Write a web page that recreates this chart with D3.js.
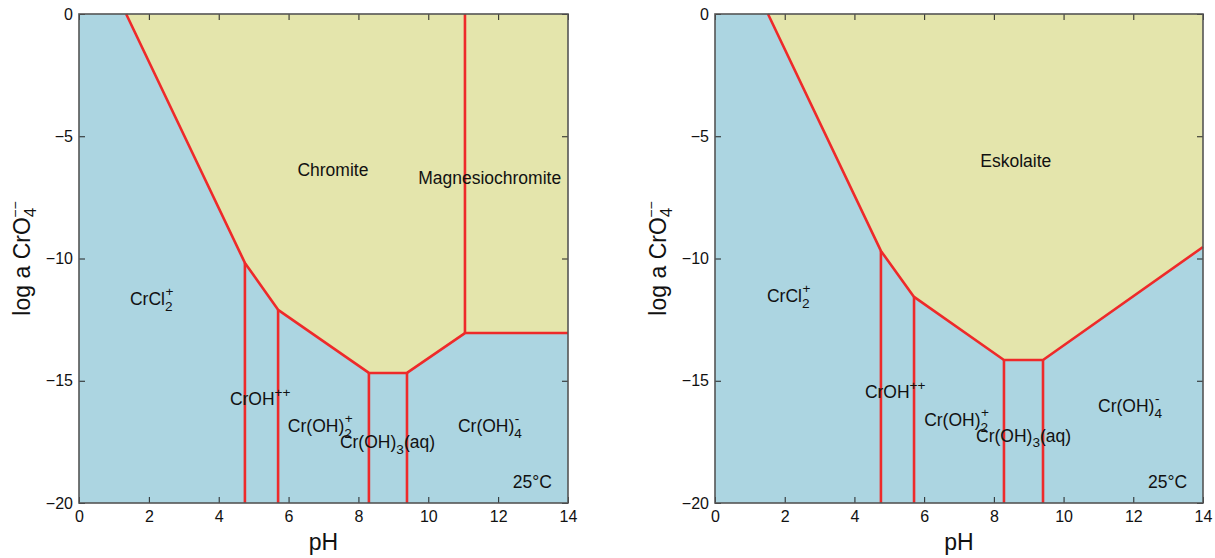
<!DOCTYPE html>
<html>
<head>
<meta charset="utf-8">
<script src="https://cdn.jsdelivr.net/npm/d3@7"></script>
<style>
  body { margin: 0; background: #fff; }
  svg text { font-family: "Liberation Sans", Arial, sans-serif; fill: #111; }
</style>
</head>
<body>
<svg id="chart" width="1215" height="558"></svg>
<script>
// ---- data ----
const xTicks = [0, 2, 4, 6, 8, 10, 12, 14];
const yTicks = [0, -5, -10, -15, -20];

// upper boundary of the aqueous field (pH, log a)
const leftBoundary = [[1.35, 0], [4.75, -10.18], [5.70, -12.1], [8.30, -14.68], [9.39, -14.68], [11.05, -13.05], [14, -13.05]];
const leftVerticals = [[4.75, -10.18, -20], [5.70, -12.1, -20], [8.30, -14.68, -20], [9.39, -14.68, -20], [11.05, 0, -13.05]];
const rightBoundary = [[1.52, 0], [4.76, -9.69], [5.71, -11.57], [8.29, -14.15], [9.41, -14.15], [14, -9.53]];
const rightVerticals = [[4.76, -9.69, -20], [5.71, -11.57, -20], [8.29, -14.15, -20], [9.41, -14.15, -20]];

// field labels: pH, log a of the text baseline, parts
const leftLabels = [
  { x: 7.27, y: -6.63, parts: [["Chromite"]], anchor: "middle" },
  { x: 9.71, y: -6.95, parts: [["Magnesiochromite"]] },
  { x: 1.46, y: -11.9, parts: [["CrCl"], ["2", "sub"], ["+", "supstack"]] },
  { x: 4.32, y: -15.99, parts: [["CrOH"], ["++", "sup"]] },
  { x: 5.98, y: -17.1, parts: [["Cr(OH)"], ["2", "sub"], ["+", "supstack"]] },
  { x: 7.47, y: -17.75, parts: [["Cr(OH)"], ["3", "sub"], ["(aq)"]] },
  { x: 10.85, y: -17.1, parts: [["Cr(OH)"], ["4", "sub"], ["-", "supstack"]] },
  { x: 12.42, y: -19.39, parts: [["25°C"]] }
];
const rightLabels = [
  { x: 8.63, y: -6.26, parts: [["Eskolaite"]], anchor: "middle" },
  { x: 1.49, y: -11.78, parts: [["CrCl"], ["2", "sub"], ["+", "supstack"]] },
  { x: 4.30, y: -15.71, parts: [["CrOH"], ["++", "sup"]] },
  { x: 6.00, y: -16.85, parts: [["Cr(OH)"], ["2", "sub"], ["+", "supstack"]] },
  { x: 7.49, y: -17.5, parts: [["Cr(OH)"], ["3", "sub"], ["(aq)"]] },
  { x: 10.99, y: -16.28, parts: [["Cr(OH)"], ["4", "sub"], ["-", "supstack"]] },
  { x: 12.42, y: -19.39, parts: [["25°C"]] }
];

const panels = [
  { left: 79, right: 568, boundary: leftBoundary, verticals: leftVerticals, labels: leftLabels },
  { left: 715, right: 1203, boundary: rightBoundary, verticals: rightVerticals, labels: rightLabels }
];
const plotTop = 14, plotBottom = 503;
const blue = "#acd5e1", yellow = "#e4e5ac", red = "#ee2a2a";
const fs = 17.5;

const svg = d3.select("#chart");

// writes sub/superscripts as tspans, bringing the baseline back after each one
function addLabel(text, parts, size) {
  let off = 0;
  parts.forEach(([t, kind]) => {
    const ts = text.append("tspan").text(t);
    let target = 0;
    if (kind === "sub") { target = size * 0.32; ts.attr("font-size", size * 0.78); }
    else if (kind === "sup") { target = -size * 0.45; ts.attr("font-size", size * 0.78); }
    else if (kind === "supstack") { target = -size * 0.5; ts.attr("font-size", size * 0.78).attr("dx", -size * 0.78 * 0.52); }
    ts.attr("dy", target - off);
    off = target;
  });
}

panels.forEach(p => {
  const x = d3.scaleLinear().domain([0, 14]).range([p.left, p.right]);
  const y = d3.scaleLinear().domain([0, -20]).range([plotTop, plotBottom]);
  const g = svg.append("g");

  g.append("rect").attr("x", x(0)).attr("y", y(0)).attr("width", x(14) - x(0)).attr("height", y(-20) - y(0)).attr("fill", blue);

  const poly = p.boundary.concat([[14, 0]]);
  g.append("path")
    .attr("d", d3.line().x(d => x(d[0])).y(d => y(d[1]))(poly) + "Z")
    .attr("fill", yellow);

  g.append("path")
    .attr("d", d3.line().x(d => x(d[0])).y(d => y(d[1]))(p.boundary))
    .attr("fill", "none").attr("stroke", red).attr("stroke-width", 2.6).attr("stroke-linejoin", "round");

  p.verticals.forEach(v => {
    g.append("line").attr("x1", x(v[0])).attr("x2", x(v[0])).attr("y1", y(v[1])).attr("y2", y(v[2]))
      .attr("stroke", red).attr("stroke-width", 2.6);
  });

  // axes with inward ticks
  g.append("g").attr("transform", `translate(0,${plotBottom})`)
    .call(d3.axisBottom(x).tickValues(xTicks).tickSize(-6).tickPadding(8).tickFormat(d3.format("d")))
    .call(a => a.select(".domain").remove())
    .call(a => a.selectAll("text").attr("font-size", 16).attr("fill", "#111"));
  g.append("g").attr("transform", `translate(0,${plotTop})`)
    .call(d3.axisTop(x).tickValues(xTicks).tickSize(-6).tickFormat(""))
    .call(a => a.select(".domain").remove());
  g.append("g").attr("transform", `translate(${p.left},0)`)
    .call(d3.axisLeft(y).tickValues(yTicks).tickSize(-6).tickPadding(6).tickFormat(d => d === 0 ? "0" : "\u2212" + Math.abs(d)))
    .call(a => a.select(".domain").remove())
    .call(a => a.selectAll("text").attr("font-size", 16).attr("fill", "#111"));
  g.append("g").attr("transform", `translate(${p.right},0)`)
    .call(d3.axisRight(y).tickValues(yTicks).tickSize(-6).tickFormat(""))
    .call(a => a.select(".domain").remove());
  g.selectAll(".tick line").attr("stroke", "#222");

  g.append("rect").attr("x", x(0)).attr("y", y(0)).attr("width", x(14) - x(0)).attr("height", y(-20) - y(0))
    .attr("fill", "none").attr("stroke", "#555").attr("stroke-width", 1.6);

  p.labels.forEach(l => {
    const t = g.append("text").attr("x", x(l.x)).attr("y", y(l.y)).attr("font-size", fs)
      .attr("text-anchor", l.anchor || "start");
    addLabel(t, l.parts, fs);
  });

  // axis titles
  g.append("text").attr("x", (p.left + p.right) / 2).attr("y", 550).attr("text-anchor", "middle").attr("font-size", 23).text("pH");
  const yl = g.append("text").attr("transform", `translate(${p.left - 49},${(plotTop + plotBottom) / 2}) rotate(-90)`)
    .attr("text-anchor", "middle").attr("font-size", 23);
  yl.append("tspan").text("log a CrO");
  yl.append("tspan").text("4").attr("font-size", 17).attr("dy", 6);
  yl.append("tspan").text("\u2212\u2212").attr("font-size", 14).attr("dy", -16).attr("dx", -10);
});
</script>
</body>
</html>
